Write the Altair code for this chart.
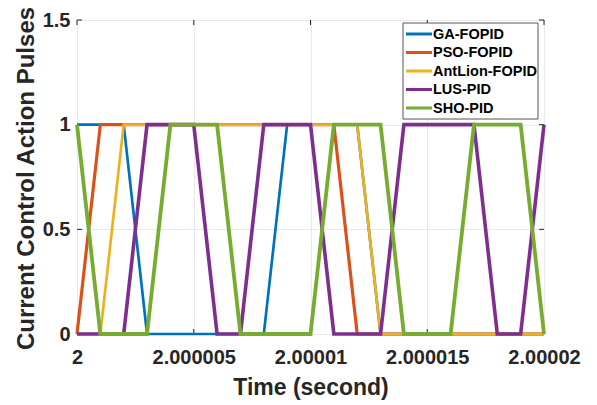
import altair as alt
import pandas as pd

# time samples (seconds)
time = [2.000000, 2.000001, 2.000002, 2.000003, 2.000004, 2.000005, 2.000006,
        2.000007, 2.000008, 2.000009, 2.000010, 2.000011, 2.000012, 2.000013,
        2.000014, 2.000015, 2.000016, 2.000017, 2.000018, 2.000019, 2.000020]

series_names = ["GA-FOPID", "PSO-FOPID", "AntLion-FOPID", "LUS-PID", "SHO-PID"]
series_colors = ["#0072BD", "#D95319", "#EDB120", "#7E2F8E", "#77AC30"]
series_widths = [2.7, 3.2, 2.7, 3.6, 3.8]

ga_fopid =      [1, 1, 1, 0, 0, 0, 0, 0, 0, 1, 1, 1, 1, 0, 0, 0, 0, 0, 0, 0, 0]
pso_fopid =     [0, 1, 1, 1, 1, 1, 1, 1, 1, 1, 1, 1, 0, 0, 0, 0, 0, 0, 0, 0, 0]
antlion_fopid = [0, 0, 1, 1, 1, 1, 1, 1, 1, 1, 1, 1, 1, 0, 0, 0, 0, 0, 0, 0, 0]
lus_pid =       [0, 0, 0, 1, 1, 1, 0, 0, 1, 1, 1, 0, 0, 0, 1, 1, 1, 1, 0, 0, 1]
sho_pid =       [1, 0, 0, 0, 1, 1, 1, 0, 0, 0, 0, 1, 1, 1, 0, 0, 0, 1, 1, 1, 0]

x_ticks = [2.0, 2.000005, 2.00001, 2.000015, 2.00002]
y_ticks = [0, 0.5, 1, 1.5]

values = [ga_fopid, pso_fopid, antlion_fopid, lus_pid, sho_pid]
rows = []
for name, vals in zip(series_names, values):
    for t, v in zip(time, vals):
        rows.append({"time": t, "pulse": v, "series": name})
df = pd.DataFrame(rows)
legend_df = pd.DataFrame({"series": series_names, "order": list(range(len(series_names)))})

W, H = 467, 314
FONT = "Liberation Sans"

xscale = alt.Scale(domain=[2.0, 2.00002], nice=False, zero=False)
yscale = alt.Scale(domain=[0, 1.5], nice=False)
color = alt.Color(
    "series:N",
    scale=alt.Scale(domain=series_names, range=series_colors),
    legend=None,
)

xaxis = alt.Axis(
    values=x_ticks, format=".6~f", ticks=False, domain=False,
    labelFont=FONT, labelFontSize=20, labelFontWeight="bold", labelColor="#262626",
    labelPadding=13, labelFlush=False,
    title="Time (second)", titleFont=FONT, titleFontSize=23, titleFontWeight="bold",
    titleColor="#262626", titleBaseline="alphabetic", titleY=60,
    grid=True, gridColor="#e8e8e8", gridWidth=1,
)
yaxis = alt.Axis(
    values=y_ticks, format="~g", ticks=False, domain=False,
    labelFont=FONT, labelFontSize=20, labelFontWeight="bold", labelColor="#262626",
    labelPadding=7, labelFlush=False,
    title="Current Control Action Pulses", titleFont=FONT, titleFontSize=24,
    titleFontWeight="bold", titleColor="#262626", titleBaseline="alphabetic",
    titleX=-44, titleY=H / 2 + 1, titleAngle=270,
    grid=True, gridColor="#e8e8e8", gridWidth=1,
)

X = lambda f: alt.X(f, scale=xscale, axis=xaxis)
Y = lambda f: alt.Y(f, scale=yscale, axis=yaxis)

xt = pd.DataFrame({"t": x_ticks})
yt = pd.DataFrame({"v": y_ticks})
tick_color = "#262626"
bottom_ticks = alt.Chart(xt).mark_rule(color=tick_color, strokeWidth=1).encode(
    x=X("t:Q"), y=alt.value(H), y2=alt.value(H - 5))
top_ticks = alt.Chart(xt).mark_rule(color=tick_color, strokeWidth=1).encode(
    x=X("t:Q"), y=alt.value(0), y2=alt.value(5))
left_ticks = alt.Chart(yt).mark_rule(color=tick_color, strokeWidth=1).encode(
    y=Y("v:Q"), x=alt.value(0), x2=alt.value(5))
right_ticks = alt.Chart(yt).mark_rule(color=tick_color, strokeWidth=1).encode(
    y=Y("v:Q"), x=alt.value(W), x2=alt.value(W - 5))

layers = []
for name, w in zip(series_names, series_widths):
    layers.append(
        alt.Chart(df).transform_filter(alt.datum.series == name)
        .mark_line(strokeWidth=w, clip=False, strokeJoin="miter")
        .encode(x=X("time:Q"), y=Y("pulse:Q"), color=color)
    )

# legend (inside the plot, top-right)
LX, LY, LW, LH = 326, 3, 135, 96
ROW0, ROWSTEP = 11, 18.5
legend_box = alt.Chart(legend_df).transform_filter(alt.datum.order == 0).mark_rect(
    fill="white", stroke="#555555", strokeWidth=1
).encode(x=alt.value(LX), x2=alt.value(LX + LW), y=alt.value(LY), y2=alt.value(LY + LH))
legend_base = alt.Chart(legend_df).transform_calculate(
    ly=f"{LY + ROW0} + datum.order * {ROWSTEP}"
)
legend_lines = legend_base.mark_rule(strokeWidth=3).encode(
    x=alt.value(LX + 3), x2=alt.value(LX + 29),
    y=alt.Y("ly:Q", scale=None, axis=None),
    color=color,
)
legend_text = legend_base.mark_text(
    align="left", baseline="middle", font=FONT, fontSize=14.5, fontWeight="bold",
    color="black", dy=0.5,
).encode(
    x=alt.value(LX + 30),
    y=alt.Y("ly:Q", scale=None, axis=None),
    text="series:N",
)

chart = alt.layer(
    bottom_ticks, top_ticks, left_ticks, right_ticks, *layers,
    legend_box, legend_lines, legend_text,
).properties(
    width=W, height=H,
    autosize=alt.AutoSizeParams(type="none"),
    padding={"left": 77, "top": 20, "right": 53, "bottom": 71},
    background="white",
).configure_view(stroke="#262626", strokeWidth=1)

chart.save("out.html", embed_options={"renderer": "svg", "actions": False})
